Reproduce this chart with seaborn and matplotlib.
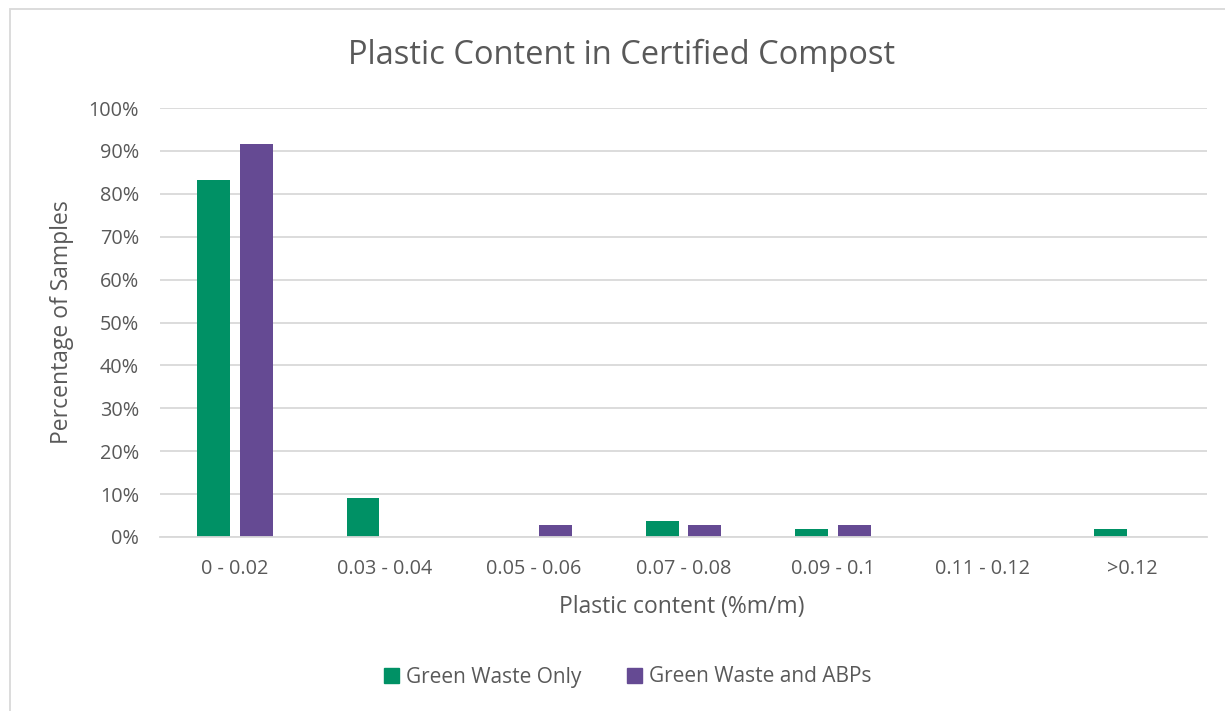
import matplotlib
matplotlib.use("Agg")
import matplotlib.pyplot as plt
import seaborn as sns
import pandas as pd
from matplotlib.patches import Rectangle
from matplotlib.ticker import PercentFormatter

categories = ["0 - 0.02", "0.03 - 0.04", "0.05 - 0.06", "0.07 - 0.08",
              "0.09 - 0.1", "0.11 - 0.12", ">0.12"]
green_only = [83.3, 9.0, 0, 3.8, 1.8, 0, 1.8]
green_abps = [91.6, 0, 2.7, 2.7, 2.7, 0, 0]
series = ["Green Waste Only", "Green Waste and ABPs"]
colors = ["#009165", "#654a93"]

df = pd.DataFrame({
    "category": categories * 2,
    "value": green_only + green_abps,
    "series": [series[0]] * len(categories) + [series[1]] * len(categories),
})

sns.set_style("white")
plt.rcParams["font.family"] = ["Open Sans", "DejaVu Sans"]
text_color = "#595959"
grid_color = "#d9d9d9"

W, H = 1225, 711
fig = plt.figure(figsize=(W / 100, H / 100), dpi=100)
ax = fig.add_axes([160 / W, 1 - 537 / H, 1047 / W, 429 / H])

sns.barplot(data=df, x="category", y="value", hue="series",
            palette=colors, saturation=1, width=0.57, gap=0.23, ax=ax,
            errorbar=None, legend=False, linewidth=0)

ax.set_ylim(0, 100)
ax.set_xlim(-0.5, 6.5)
ax.set_yticks(range(0, 101, 10))
ax.yaxis.set_major_formatter(PercentFormatter(decimals=0))
ax.yaxis.grid(True, color=grid_color, linewidth=1.3)
ax.set_axisbelow(True)
for s in ["top", "right", "left"]:
    ax.spines[s].set_visible(False)
ax.spines["bottom"].set_color(grid_color)
ax.spines["bottom"].set_linewidth(1.3)
ax.tick_params(axis="both", length=0, labelsize=14.3, colors=text_color)
ax.tick_params(axis="x", pad=15.5)
ax.tick_params(axis="y", pad=15)

ax.set_xlabel("Plastic content (%m/m)", fontsize=16.5, color=text_color)
ax.set_ylabel("Percentage of Samples", fontsize=16.5, color=text_color)
ax.xaxis.set_label_coords(682 / W, 1 - 607 / H, transform=fig.transFigure)
ax.yaxis.set_label_coords(62 / W, 1 - 322 / H, transform=fig.transFigure)
ax.xaxis.label.set_va("center")
ax.yaxis.label.set_va("center")

fig.text(622 / W, 1 - 55 / H, "Plastic Content in Certified Compost",
         ha="center", va="center", fontsize=23.5, color=text_color)

handles = [Rectangle((0, 0), 1, 1, color=c) for c in colors]
fig.legend(handles, series, loc="center", bbox_to_anchor=(628 / W, 1 - 677 / H),
           ncol=2, frameon=False, fontsize=15, labelcolor=text_color,
           handlelength=0.7, handleheight=0.7, handletextpad=0.35, columnspacing=2.2)

fig.patches.append(Rectangle((10 / W, -0.1), 1.2, 1.1 - 9 / H,
                             transform=fig.transFigure, fill=False,
                             edgecolor=grid_color, linewidth=1.3))

fig.savefig("out.png", dpi=100)
